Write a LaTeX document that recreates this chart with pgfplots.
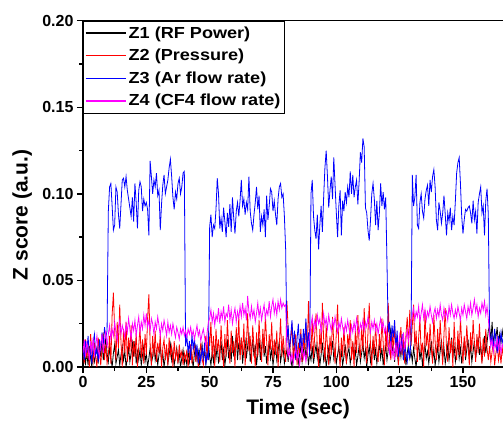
\documentclass[border=0pt]{standalone}
\usepackage{fontspec}
\setmainfont{Liberation Sans}
\newfontfamily\legfont{Liberation Sans}[FakeStretch=1.13]
\usepackage{pgfplots}
\pgfplotsset{compat=1.18}
\usepackage{pgfplotstable}
\definecolor{zred}{RGB}{255,0,0}
\definecolor{zblue}{RGB}{0,0,255}
\definecolor{zmag}{RGB}{255,0,255}
\pgfplotstableread{
t z1 z2 z3 z4
0.0 0.004 0.010 0.012 0.008
0.5 0.010 0.002 0.004 0.016
1.0 0.002 0.016 0.015 0.006
1.5 0.008 0.005 0.008 0.014
2.0 0.001 0.012 0.018 0.011
2.5 0.012 0.000 0.006 0.004
3.0 0.005 0.019 0.010 0.015
3.5 0.000 0.008 0.002 0.009
4.0 0.009 0.003 0.014 0.017
4.5 0.003 0.014 0.019 0.007
5.0 0.007 0.006 0.007 0.012
5.5 0.011 0.000 0.011 0.018
6.0 0.002 0.017 0.003 0.010
6.5 0.014 0.009 0.016 0.006
7.0 0.006 0.001 0.009 0.013
7.5 0.016 0.011 0.020 0.019
8.0 0.004 0.020 0.013 0.008
8.5 0.010 0.004 0.023 0.015
9.0 0.017 0.013 0.017 0.021
9.5 0.008 0.002 0.021 0.011
10.0 0.003 0.007 0.090 0.019
10.5 0.011 0.018 0.104 0.024
11.0 0.005 0.002 0.106 0.016
11.5 0.000 0.030 0.093 0.022
12.0 0.008 0.043 0.079 0.018
12.5 0.013 0.021 0.082 0.026
13.0 0.002 0.004 0.104 0.020
13.5 0.006 0.026 0.101 0.015
14.0 0.010 0.011 0.088 0.023
14.5 0.001 0.036 0.080 0.027
15.0 0.007 0.014 0.094 0.019
15.5 0.012 0.000 0.108 0.024
16.0 0.004 0.022 0.109 0.021
16.5 0.009 0.008 0.104 0.017
17.0 0.000 0.026 0.110 0.025
17.5 0.005 0.003 0.102 0.020
18.0 0.011 0.017 0.097 0.028
18.5 0.003 0.009 0.092 0.022
19.0 0.008 0.024 0.087 0.016
19.5 0.014 0.001 0.098 0.025
20.0 0.006 0.015 0.084 0.021
20.5 0.015 0.006 0.106 0.027
21.0 0.002 0.020 0.095 0.018
21.5 0.009 0.000 0.080 0.024
22.0 0.004 0.012 0.102 0.029
22.5 0.010 0.023 0.107 0.020
23.0 0.001 0.005 0.104 0.026
23.5 0.007 0.016 0.090 0.022
24.0 0.012 0.002 0.097 0.030
24.5 0.003 0.019 0.093 0.024
25.0 0.008 0.007 0.095 0.031
25.5 0.000 0.028 0.091 0.023
26.0 0.005 0.042 0.076 0.027
26.5 0.011 0.013 0.119 0.021
27.0 0.002 0.001 0.110 0.028
27.5 0.006 0.018 0.100 0.025
28.0 0.013 0.006 0.108 0.019
28.5 0.004 0.021 0.104 0.026
29.0 0.009 0.003 0.112 0.022
29.5 0.001 0.014 0.099 0.029
30.0 0.007 0.008 0.102 0.024
30.5 0.012 0.019 0.079 0.018
31.0 0.003 0.000 0.094 0.025
31.5 0.008 0.011 0.105 0.021
32.0 0.000 0.016 0.111 0.027
32.5 0.006 0.004 0.100 0.023
33.0 0.010 0.013 0.104 0.018
33.5 0.002 0.001 0.108 0.026
34.0 0.007 0.017 0.115 0.020
34.5 0.013 0.007 0.120 0.024
35.0 0.004 0.012 0.110 0.019
35.5 0.009 0.000 0.098 0.025
36.0 0.001 0.015 0.091 0.021
36.5 0.006 0.005 0.101 0.017
37.0 0.011 0.010 0.097 0.023
37.5 0.003 0.002 0.106 0.020
38.0 0.008 0.013 0.109 0.016
38.5 0.000 0.006 0.100 0.022
39.0 0.005 0.009 0.104 0.019
39.5 0.010 0.001 0.112 0.023
40.0 0.002 0.008 0.113 0.018
40.5 0.006 0.004 0.012 0.021
41.0 0.001 0.010 0.018 0.017
41.5 0.009 0.000 0.008 0.022
42.0 0.003 0.007 0.015 0.019
42.5 0.011 0.013 0.004 0.023
43.0 0.005 0.002 0.019 0.018
43.5 0.000 0.009 0.010 0.021
44.0 0.008 0.015 0.017 0.016
44.5 0.012 0.003 0.006 0.020
45.0 0.004 0.011 0.013 0.024
45.5 0.009 0.000 0.002 0.018
46.0 0.002 0.006 0.009 0.021
46.5 0.007 0.014 0.003 0.015
47.0 0.013 0.005 0.011 0.019
47.5 0.004 0.001 0.005 0.022
48.0 0.010 0.012 0.014 0.017
48.5 0.002 0.018 0.001 0.012
49.0 0.008 0.004 0.008 0.020
49.5 0.014 0.021 0.004 0.026
50.0 0.006 0.012 0.081 0.028
50.5 0.001 0.026 0.088 0.033
51.0 0.009 0.005 0.075 0.026
51.5 0.003 0.018 0.082 0.031
52.0 0.011 0.000 0.080 0.024
52.5 0.005 0.022 0.091 0.030
53.0 0.013 0.009 0.109 0.027
53.5 0.002 0.016 0.100 0.034
54.0 0.008 0.003 0.080 0.025
54.5 0.015 0.024 0.086 0.032
55.0 0.004 0.011 0.078 0.028
55.5 0.010 0.000 0.092 0.035
56.0 0.001 0.019 0.084 0.026
56.5 0.007 0.006 0.075 0.031
57.0 0.016 0.027 0.089 0.029
57.5 0.005 0.012 0.081 0.036
58.0 0.011 0.002 0.094 0.027
58.5 0.003 0.021 0.078 0.033
59.0 0.018 0.008 0.098 0.025
59.5 0.006 0.015 0.086 0.030
60.0 0.012 0.000 0.077 0.034
60.5 0.019 0.023 0.090 0.026
61.0 0.004 0.010 0.095 0.032
61.5 0.014 0.029 0.087 0.028
62.0 0.007 0.004 0.096 0.035
62.5 0.017 0.017 0.108 0.029
63.0 0.002 0.007 0.093 0.037
63.5 0.010 0.025 0.097 0.030
64.0 0.015 0.001 0.088 0.034
64.5 0.005 0.013 0.095 0.027
65.0 0.012 0.031 0.091 0.041
65.5 0.020 0.009 0.110 0.032
66.0 0.003 0.018 0.090 0.028
66.5 0.009 0.002 0.083 0.035
67.0 0.016 0.024 0.079 0.029
67.5 0.006 0.011 0.088 0.033
68.0 0.013 0.000 0.095 0.026
68.5 0.001 0.020 0.104 0.031
69.0 0.008 0.006 0.091 0.037
69.5 0.017 0.027 0.099 0.029
70.0 0.004 0.013 0.078 0.034
70.5 0.011 0.003 0.087 0.027
71.0 0.019 0.022 0.082 0.032
71.5 0.006 0.008 0.091 0.036
72.0 0.012 0.030 0.075 0.028
72.5 0.002 0.015 0.099 0.033
73.0 0.009 0.001 0.085 0.030
73.5 0.014 0.019 0.093 0.038
74.0 0.005 0.010 0.103 0.029
74.5 0.010 0.026 0.101 0.035
75.0 0.001 0.004 0.090 0.039
75.5 0.007 0.016 0.096 0.031
76.0 0.013 0.007 0.088 0.036
76.5 0.004 0.021 0.082 0.030
77.0 0.009 0.000 0.097 0.038
77.5 0.015 0.013 0.104 0.033
78.0 0.003 0.028 0.106 0.039
78.5 0.008 0.006 0.098 0.034
79.0 0.011 0.018 0.100 0.037
79.5 0.002 0.009 0.087 0.035
80.0 0.006 0.003 0.068 0.036
80.5 0.010 0.038 0.014 0.012
81.0 0.003 0.021 0.024 0.006
81.5 0.013 0.007 0.009 0.010
82.0 0.005 0.016 0.018 0.003
82.5 0.000 0.025 0.027 0.008
83.0 0.008 0.004 0.012 0.002
83.5 0.014 0.012 0.021 0.007
84.0 0.004 0.019 0.005 0.011
84.5 0.010 0.001 0.016 0.004
85.0 0.002 0.014 0.025 0.009
85.5 0.007 0.008 0.011 0.001
86.0 0.012 0.022 0.019 0.006
86.5 0.003 0.003 0.008 0.012
87.0 0.009 0.017 0.022 0.005
87.5 0.015 0.010 0.014 0.009
88.0 0.005 0.026 0.028 0.003
88.5 0.011 0.006 0.010 0.008
89.0 0.001 0.038 0.020 0.013
89.5 0.008 0.015 0.006 0.018
90.0 0.004 0.009 0.100 0.024
90.5 0.012 0.027 0.108 0.029
91.0 0.002 0.005 0.087 0.021
91.5 0.008 0.019 0.079 0.027
92.0 0.013 0.031 0.074 0.023
92.5 0.005 0.011 0.088 0.030
93.0 0.010 0.000 0.068 0.025
93.5 0.001 0.022 0.082 0.028
94.0 0.007 0.008 0.093 0.020
94.5 0.014 0.037 0.078 0.026
95.0 0.004 0.016 0.098 0.031
95.5 0.009 0.003 0.115 0.024
96.0 0.000 0.024 0.125 0.028
96.5 0.006 0.012 0.110 0.022
97.0 0.011 0.001 0.092 0.030
97.5 0.003 0.018 0.102 0.025
98.0 0.008 0.007 0.110 0.021
98.5 0.015 0.029 0.097 0.027
99.0 0.005 0.014 0.121 0.023
99.5 0.010 0.002 0.105 0.029
100.0 0.002 0.020 0.089 0.024
100.5 0.007 0.036 0.075 0.020
101.0 0.012 0.010 0.093 0.026
101.5 0.004 0.000 0.102 0.022
102.0 0.009 0.017 0.076 0.028
102.5 0.001 0.006 0.096 0.023
103.0 0.006 0.023 0.090 0.019
103.5 0.013 0.009 0.101 0.025
104.0 0.003 0.002 0.095 0.021
104.5 0.008 0.019 0.104 0.027
105.0 0.011 0.011 0.098 0.022
105.5 0.002 0.027 0.113 0.018
106.0 0.007 0.004 0.100 0.024
106.5 0.014 0.015 0.111 0.020
107.0 0.004 0.000 0.098 0.026
107.5 0.010 0.021 0.104 0.021
108.0 0.001 0.008 0.108 0.028
108.5 0.006 0.030 0.094 0.023
109.0 0.012 0.013 0.107 0.019
109.5 0.003 0.005 0.124 0.025
110.0 0.008 0.024 0.118 0.022
110.5 0.014 0.009 0.132 0.027
111.0 0.005 0.034 0.127 0.021
111.5 0.010 0.016 0.092 0.026
112.0 0.000 0.002 0.089 0.023
112.5 0.007 0.020 0.079 0.029
113.0 0.012 0.037 0.073 0.024
113.5 0.003 0.012 0.085 0.020
114.0 0.009 0.000 0.100 0.026
114.5 0.015 0.018 0.106 0.022
115.0 0.004 0.007 0.097 0.027
115.5 0.010 0.025 0.082 0.021
116.0 0.002 0.010 0.096 0.025
116.5 0.008 0.003 0.079 0.019
117.0 0.013 0.019 0.089 0.024
117.5 0.005 0.008 0.106 0.028
118.0 0.011 0.028 0.093 0.022
118.5 0.001 0.014 0.101 0.026
119.0 0.007 0.001 0.091 0.020
119.5 0.012 0.022 0.098 0.023
120.0 0.004 0.009 0.060 0.018
120.5 0.010 0.037 0.020 0.013
121.0 0.018 0.015 0.026 0.008
121.5 0.022 0.004 0.012 0.015
122.0 0.008 0.020 0.024 0.006
122.5 0.013 0.009 0.017 0.011
123.0 0.003 0.026 0.027 0.004
123.5 0.016 0.006 0.010 0.014
124.0 0.009 0.018 0.021 0.007
124.5 0.002 0.001 0.006 0.012
125.0 0.012 0.014 0.015 0.018
125.5 0.006 0.023 0.009 0.009
126.0 0.015 0.007 0.019 0.014
126.5 0.004 0.016 0.004 0.020
127.0 0.010 0.002 0.013 0.010
127.5 0.001 0.019 0.008 0.016
128.0 0.008 0.029 0.003 0.021
128.5 0.013 0.011 0.011 0.015
129.0 0.005 0.033 0.005 0.022
129.5 0.009 0.012 0.016 0.026
130.0 0.003 0.024 0.111 0.030
130.5 0.011 0.036 0.093 0.034
131.0 0.005 0.010 0.098 0.027
131.5 0.000 0.021 0.111 0.032
132.0 0.008 0.003 0.082 0.029
132.5 0.014 0.017 0.080 0.035
133.0 0.004 0.028 0.095 0.026
133.5 0.010 0.008 0.100 0.031
134.0 0.001 0.014 0.090 0.036
134.5 0.007 0.000 0.086 0.028
135.0 0.013 0.033 0.097 0.033
135.5 0.005 0.012 0.102 0.027
136.0 0.009 0.020 0.105 0.032
136.5 0.002 0.006 0.093 0.029
137.0 0.008 0.025 0.108 0.035
137.5 0.015 0.011 0.101 0.030
138.0 0.004 0.002 0.110 0.026
138.5 0.010 0.030 0.114 0.031
139.0 0.001 0.015 0.104 0.034
139.5 0.006 0.004 0.085 0.028
140.0 0.012 0.022 0.079 0.033
140.5 0.003 0.009 0.095 0.029
141.0 0.009 0.027 0.090 0.036
141.5 0.016 0.013 0.083 0.030
142.0 0.005 0.001 0.089 0.027
142.5 0.011 0.019 0.099 0.034
143.0 0.002 0.034 0.088 0.029
143.5 0.007 0.010 0.076 0.032
144.0 0.013 0.003 0.089 0.027
144.5 0.004 0.023 0.084 0.035
145.0 0.010 0.008 0.092 0.030
145.5 0.017 0.016 0.079 0.036
146.0 0.006 0.000 0.087 0.031
146.5 0.012 0.026 0.082 0.028
147.0 0.003 0.011 0.096 0.033
147.5 0.008 0.004 0.112 0.029
148.0 0.014 0.021 0.118 0.035
148.5 0.005 0.007 0.121 0.031
149.0 0.011 0.029 0.106 0.027
149.5 0.002 0.013 0.087 0.034
150.0 0.009 0.002 0.077 0.030
150.5 0.015 0.018 0.085 0.036
151.0 0.004 0.006 0.091 0.032
151.5 0.010 0.024 0.090 0.028
152.0 0.016 0.012 0.092 0.035
152.5 0.006 0.001 0.093 0.031
153.0 0.012 0.020 0.089 0.037
153.5 0.003 0.009 0.083 0.030
154.0 0.009 0.027 0.096 0.034
154.5 0.015 0.014 0.085 0.039
155.0 0.005 0.003 0.090 0.032
155.5 0.011 0.019 0.077 0.036
156.0 0.017 0.008 0.095 0.029
156.5 0.007 0.025 0.100 0.034
157.0 0.013 0.010 0.104 0.031
157.5 0.004 0.002 0.089 0.037
158.0 0.010 0.017 0.093 0.033
158.5 0.018 0.006 0.076 0.038
159.0 0.008 0.022 0.096 0.030
159.5 0.014 0.011 0.103 0.035
160.0 0.021 0.004 0.088 0.028
160.5 0.024 0.012 0.021 0.018
161.0 0.015 0.003 0.013 0.012
161.5 0.026 0.009 0.019 0.016
162.0 0.012 0.015 0.010 0.009
162.5 0.020 0.001 0.022 0.014
163.0 0.017 0.008 0.015 0.011
163.5 0.023 0.013 0.008 0.017
164.0 0.011 0.004 0.018 0.010
164.5 0.019 0.010 0.012 0.015
165.0 0.014 0.002 0.020 0.008
165.5 0.021 0.011 0.014 0.013
166.0 0.016 0.006 0.017 0.011
}\zdata

\begin{document}
\begin{tikzpicture}
\begin{axis}[
  name=ax,
  scale only axis, width=420bp, height=346.3bp,
  xmin=0, xmax=165.8, ymin=0, ymax=0.2,
  axis x line*=box, axis y line*=left,
  axis line style={line width=1.6bp, -},
  xtick={0,25,...,150}, ytick={0,0.05,...,0.2},
  minor x tick num=1, minor y tick num=1,
  xtick pos=bottom, ytick pos=left,
  tick align=outside,
  major tick length=6bp, minor tick length=3.5bp,
  every tick/.style={black, line width=1.4bp},
  scaled y ticks=false,
  /pgf/number format/assume math mode=true,
  yticklabel style={/pgf/number format/fixed, /pgf/number format/fixed zerofill, /pgf/number format/precision=2},
  tick label style={font=\fontsize{16bp}{16bp}\selectfont\bfseries},
  xlabel={Time (sec)}, ylabel={Z score (a.u.)},
  label style={font=\fontsize{21bp}{21bp}\selectfont\bfseries},
  xlabel style={at={(axis description cs:0.512,-0.121)}, anchor=center},
  ylabel style={at={(axis description cs:-0.145,0.439)}, anchor=center},
  legend cell align=left,
  legend style={at={(0,1)}, anchor=north west, draw=black, line width=0.8bp,
    font=\legfont\fontsize{16bp}{16bp}\selectfont\bfseries,
    inner xsep=1.5bp, inner ysep=3bp, row sep=4.5bp,
    nodes={inner sep=2.5bp}},
  legend image code/.code={\draw[#1, line width=1.3bp] (0bp,0bp) -- (40bp,0bp);},
]
\addplot[black, line width=0.8bp] table[x=t, y=z1] {\zdata};
\addlegendentry{Z1 (RF Power)}
\addplot[zred, line width=0.8bp] table[x=t, y=z2] {\zdata};
\addlegendentry{Z2 (Pressure)}
\addplot[zblue, line width=0.8bp] table[x=t, y=z3] {\zdata};
\addlegendentry{Z3 (Ar flow rate)}
\addplot[zmag, line width=0.8bp] table[x=t, y=z4] {\zdata};
\addlegendentry{Z4 (CF4 flow rate)}
\end{axis}
\pgfresetboundingbox
\useasboundingbox ([xshift=-83bp,yshift=-60bp]ax.south west) rectangle ([yshift=20.7bp]ax.north east);
\end{tikzpicture}
\end{document}
